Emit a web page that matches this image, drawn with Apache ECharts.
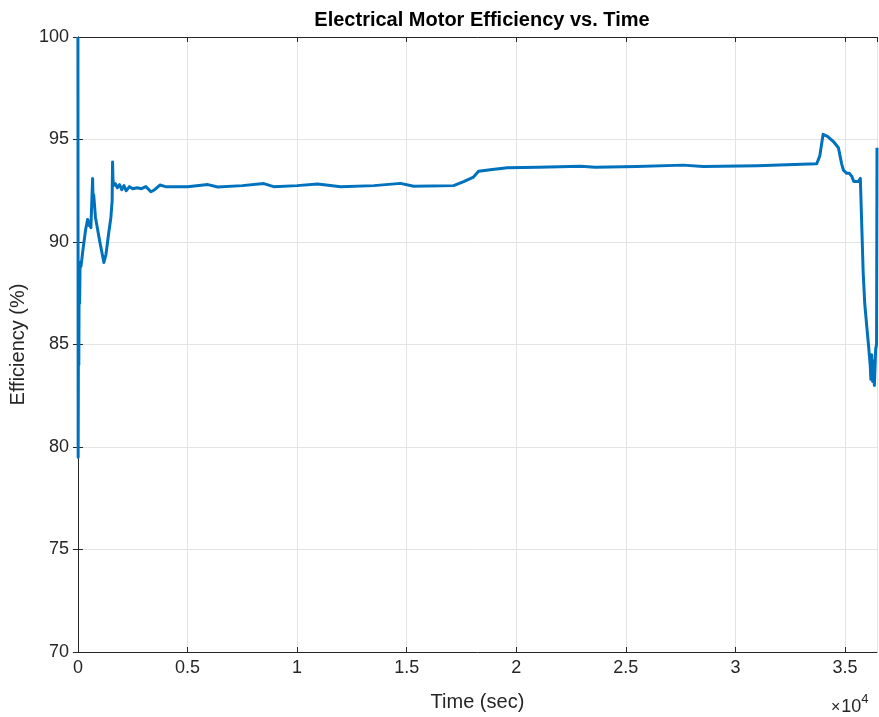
<!DOCTYPE html>
<html>
<head>
<meta charset="utf-8">
<title>Electrical Motor Efficiency vs. Time</title>
<script src="https://cdn.jsdelivr.net/npm/echarts@6/dist/echarts.min.js"></script>
<style>
  html, body { margin: 0; padding: 0; background: #ffffff; }
  #chart { width: 879px; height: 717px; }
</style>
</head>
<body>
<div id="chart"></div>
<script>
// Elapsed time of each sample, seconds
const timeSec = [
  0, 5, 10, 25, 40, 55, 75, 100, 137, 250, 350, 442, 520, 560, 592, 640, 670, 690, 720, 800,
  1000, 1185, 1280, 1400, 1504, 1560, 1580, 1600, 1620, 1700, 1800, 1900, 2000, 2100, 2200,
  2350, 2500, 2700, 2900, 3100, 3330, 3500, 3740, 4000, 5000, 5930, 6380, 7500, 8480, 8930,
  10000, 10940, 11990, 13500, 14720, 15320, 17140, 17600, 18050, 18280, 19000, 19600, 21000,
  22930, 23600, 25500, 27620, 28530, 31000, 33710, 33850, 34000, 34200, 34470, 34700, 34850,
  34930, 35080, 35200, 35310, 35400, 35610, 35700, 35770, 35830, 35900, 36000, 36070, 36150,
  36180, 36220, 36260, 36300, 36340, 36400, 36440, 36460
];
// Motor efficiency at each sample, percent
const efficiencyPct = [
  100, 91.5, 79.5, 86, 84, 88.5, 87.0, 89, 88.8, 89.8, 90.6, 91.1, 90.8, 91.0, 90.7, 92.2, 93.1, 92.0, 92.3, 91.2,
  90.0, 89.0, 89.4, 90.4, 91.2, 92.0, 93.9, 93.0, 92.75, 92.85, 92.65, 92.8, 92.55, 92.75, 92.5,
  92.7, 92.6, 92.65, 92.6, 92.7, 92.45, 92.55, 92.78, 92.7, 92.7, 92.8, 92.68, 92.75, 92.85, 92.7,
  92.75, 92.83, 92.7, 92.75, 92.86, 92.72, 92.75, 92.95, 93.17, 93.45, 93.55, 93.62, 93.65,
  93.7, 93.65, 93.68, 93.75, 93.68, 93.72, 93.82, 94.2, 95.25, 95.15, 94.9, 94.6, 93.8,
  93.5, 93.35, 93.35, 93.2, 92.95, 92.95, 93.1, 93.05, 88.5, 87.0, 85.8, 85.0, 84.0,
  83.3, 84.5, 83.2, 84.2, 83.0, 84.8, 85.0, 94.6
];
// Axis ranges and tick steps
const xRange = [0, 36460];
const xStep = 5000;
const yRange = [70, 100];
const yStep = 5;

const points = timeSec.map((t, i) => [t, efficiencyPct[i]]);

const axisColor = '#262626';
const gridColor = '#e3e3e3';
const fontFam = '"Liberation Sans", Arial, Helvetica, sans-serif';

const chart = echarts.init(document.getElementById('chart'), null, { renderer: 'canvas' });

// Top and right axes only close the box and carry inward ticks
const boxAxis = {
  axisLine: { show: true, lineStyle: { color: axisColor, width: 1 } },
  axisTick: { show: true, inside: true, length: 5, lineStyle: { color: axisColor } },
  axisLabel: { show: false },
  splitLine: { show: false }
};

chart.setOption({
  animation: false,
  backgroundColor: '#ffffff',
  title: {
    text: 'Electrical Motor Efficiency vs. Time',
    left: 477, top: 5, textAlign: 'center',
    textStyle: { fontFamily: fontFam, fontSize: 20, fontWeight: 'bold', color: '#000000' }
  },
  grid: { left: 77, right: 2, top: 37, bottom: 65, containLabel: false },
  xAxis: [{
    type: 'value', min: xRange[0], max: xRange[1], interval: xStep,
    name: 'Time (sec)', nameLocation: 'middle', nameGap: 40,
    nameTextStyle: { fontFamily: fontFam, fontSize: 20, color: axisColor },
    axisLine: { show: true, onZero: false, lineStyle: { color: axisColor, width: 1 } },
    axisTick: { show: true, inside: true, length: 5, lineStyle: { color: axisColor } },
    axisLabel: {
      fontFamily: fontFam, fontSize: 18, color: axisColor, margin: 7, showMaxLabel: false,
      formatter: v => (v % xStep === 0 ? String(v / 10000) : '')
    },
    splitLine: { show: true, lineStyle: { color: gridColor, width: 1 } }
  }, Object.assign({
    type: 'value', position: 'top', min: xRange[0], max: xRange[1], interval: xStep
  }, boxAxis)],
  yAxis: [{
    type: 'value', min: yRange[0], max: yRange[1], interval: yStep,
    name: 'Efficiency (%)', nameLocation: 'middle', nameGap: 44, nameRotate: 90,
    nameTextStyle: { fontFamily: fontFam, fontSize: 20, color: axisColor },
    axisLine: { show: true, onZero: false, lineStyle: { color: axisColor, width: 1 } },
    axisTick: { show: true, inside: true, length: 5, lineStyle: { color: axisColor } },
    axisLabel: { fontFamily: fontFam, fontSize: 18, color: axisColor, margin: 9 },
    splitLine: { show: true, lineStyle: { color: gridColor, width: 1 } }
  }, Object.assign({
    type: 'value', position: 'right', min: yRange[0], max: yRange[1], interval: yStep
  }, boxAxis)],
  graphic: [{
    type: 'text', left: 831, top: 693,
    style: {
      text: '{m|×}{b|10}{s|4}',
      rich: {
        m: { fontFamily: fontFam, fontSize: 16, fill: axisColor, padding: [8, 1, 0, 0] },
        b: { fontFamily: fontFam, fontSize: 18, fill: axisColor, padding: [8, 0, 0, 0] },
        s: { fontFamily: fontFam, fontSize: 13, fill: axisColor, padding: [0, 0, 8, 0] }
      }
    }
  }],
  series: [{
    type: 'line',
    data: points,
    xAxisIndex: 0, yAxisIndex: 0,
    showSymbol: false, symbol: 'none',
    clip: true,
    lineStyle: { color: '#0072BD', width: 3, join: 'round' },
    z: 3
  }]
});
</script>
</body>
</html>
